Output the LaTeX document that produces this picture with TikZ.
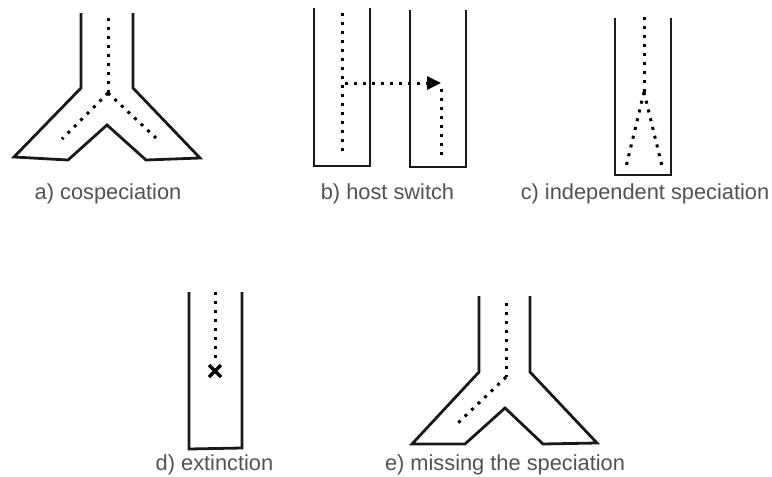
\documentclass[tikz,border=0pt]{standalone}
\usepackage{fontspec}
\setmainfont{Liberation Sans}
\usetikzlibrary{arrows.meta}
\begin{document}
\begin{tikzpicture}[x=1pt,y=-1pt,
  wall/.style={line width=2.8pt, line join=miter, black!90},
  trace/.style={line width=3pt, dash pattern=on 3pt off 6pt, black},
  lab/.style={font=\fontsize{21.8}{26}\selectfont, text=black!68, inner sep=0pt, anchor=center}]
\useasboundingbox (0,0) rectangle (772,477);
% ---------- a) cospeciation
\draw[wall] (81,13) -- (81,88) -- (14,157) -- (68,160) -- (107,125) -- (146,160) -- (200,158) -- (133,88) -- (133,13);
\coordinate (a0) at (108,18);
\coordinate (a1) at (108,93);
\coordinate (a2) at (62,139);
\coordinate (a3) at (156,138);
\draw[trace] (a0) -- (a1);
\draw[trace] (a1) -- (a2);
\draw[trace] (a1) -- (a3);
\node[lab] (la) at (108,194) {a) cospeciation};
% ---------- b) host switch
\draw[wall] (314,8) -- (314,166) -- (370,166) -- (370,8);
\draw[wall] (410,10) -- (410,167) -- (466,167) -- (466,10);
\coordinate (b0) at (342,13);
\coordinate (b1) at (342,154);
\coordinate (b2) at (345,83);
\coordinate (b3) at (441,83);
\coordinate (b4) at (441,89);
\coordinate (b5) at (441,155);
\draw[trace] (b0) -- (b1);
\draw[trace, -{Triangle[length=14pt,width=13pt]}] (b2) -- (b3);
\draw[trace] (b4) -- (b5);
\node[lab] (lb) at (387.5,194) {b) host switch};
% ---------- c) independent speciation
\draw[wall] (615,18) -- (615,175) -- (671,175) -- (671,18);
\coordinate (c0) at (644,17);
\coordinate (c1) at (644,92);
\coordinate (c2) at (626,167);
\coordinate (c3) at (662,166);
\draw[trace] (c0) -- (c1);
\draw[trace] (c1) -- (c2);
\draw[trace] (c1) -- (c3);
\node[lab] (lc) at (645,194) {c) independent speciation};
% ---------- d) extinction
\draw[wall] (189,292) -- (189,449) -- (242,448) -- (242,292);
\coordinate (d0) at (215,292);
\coordinate (d1) at (215,358);
\coordinate (dx) at (215,371);
\draw[trace] (d0) -- (d1);
\draw[line width=3.2pt] ([shift={(-6,-6)}]dx) -- ([shift={(6,6)}]dx)
  ([shift={(-6,6)}]dx) -- ([shift={(6,-6)}]dx);
\node[lab] (ld) at (214.5,465) {d) extinction};
% ---------- e) missing the speciation
\draw[wall] (479,296) -- (479,372) -- (412,444) -- (465,444) -- (505,408) -- (543,444) -- (597,443) -- (530,372) -- (530,296);
\coordinate (e0) at (506,303);
\coordinate (e1) at (506,377);
\coordinate (e2) at (458,423);
\draw[trace] (e0) -- (e1);
\draw[trace] (e1) -- (e2);
\node[lab] (le) at (505,465) {e) missing the speciation};
\end{tikzpicture}
\end{document}
